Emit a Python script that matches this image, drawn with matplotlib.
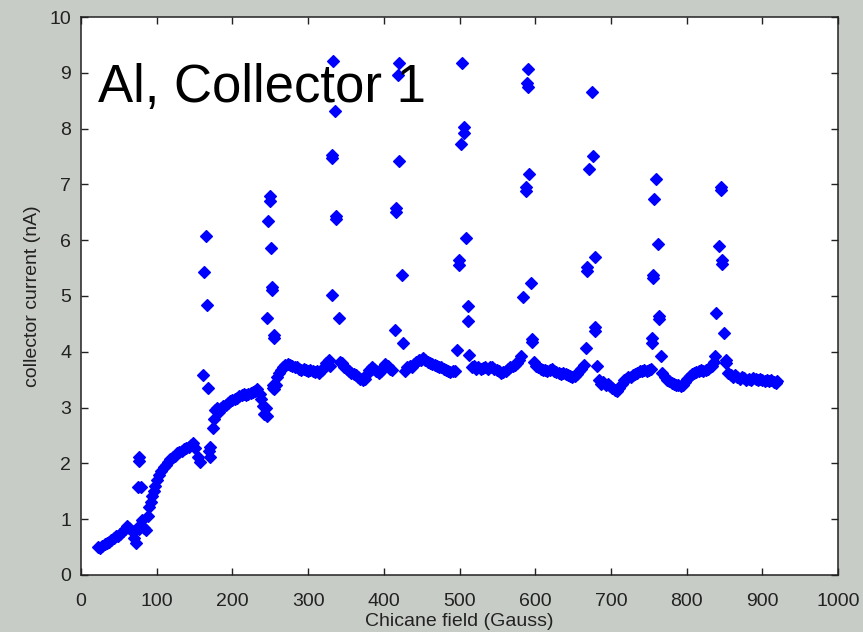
import matplotlib
matplotlib.use("Agg")
import matplotlib.pyplot as plt

# smooth part of the sweep (Gauss, nA)
field_base = [22, 25, 28, 31, 34, 37, 40, 43, 46, 49, 52, 55, 58, 61, 64, 67, 70, 72, 74, 77,
              80, 83, 86, 88, 90, 92, 94, 96, 98, 100, 103, 106, 109, 112, 115, 118, 121, 124, 127, 130,
              133, 136, 139, 142, 145, 148, 151, 154, 157,
              174, 176, 177, 179, 182, 185, 188, 191, 194, 197, 200, 203, 206, 209, 212, 215, 218, 221, 224, 227,
              230, 233, 236, 238, 240, 242, 244,
              255, 257, 259, 261, 264, 267, 270, 273, 276, 279, 282, 285, 288, 291, 294, 297, 300, 303, 306, 309,
              312, 315, 318, 321, 324, 327, 329,
              342, 345, 348, 351, 354, 357, 360, 363, 366, 369, 372, 375, 378, 381, 384, 387, 390, 393, 396, 399,
              402, 405, 408, 411,
              428, 431, 434, 437, 440, 443, 446, 449, 452, 455, 458, 461, 464, 467, 470, 473, 476, 479, 482, 485,
              488, 491, 494,
              516, 519, 522, 525, 528, 531, 534, 537, 540, 543, 546, 549, 552, 555, 558, 561, 564, 567, 570, 573,
              576, 579, 581,
              598, 601, 604, 607, 610, 613, 616, 619, 622, 625, 628, 631, 634, 637, 640, 643, 646, 649, 652, 655,
              658, 661, 664,
              684, 687, 690, 693, 696, 699, 702, 705, 708, 711, 714, 717, 720, 723, 726, 729, 732, 735, 738, 741,
              744, 747, 750, 753,
              768, 771, 774, 777, 780, 783, 786, 789, 792, 795, 798, 801, 804, 807, 810, 813, 816, 819, 822, 825,
              828, 831, 834, 836,
              855, 858, 861, 864, 867, 870, 873, 876, 879, 882, 885, 888, 891, 894, 897, 900, 903, 906, 909, 912,
              915, 918, 920]
current_base = [0.50, 0.48, 0.52, 0.55, 0.58, 0.60, 0.63, 0.66, 0.70, 0.70, 0.74, 0.78, 0.82, 0.87, 0.84, 0.78, 0.66, 0.57, 0.85, 0.82,
                0.98, 0.85, 0.80, 1.05, 1.22, 1.30, 1.42, 1.50, 1.60, 1.70, 1.80, 1.87, 1.93, 1.98, 2.03, 2.07, 2.11, 2.14, 2.18, 2.20,
                2.23, 2.25, 2.28, 2.30, 2.33, 2.37, 2.28, 2.12, 2.02,
                2.63, 2.80, 2.95, 3.00, 2.92, 3.00, 3.03, 3.05, 3.08, 3.12, 3.13, 3.15, 3.17, 3.20, 3.22, 3.24, 3.22, 3.25, 3.27, 3.28,
                3.30, 3.33, 3.25, 3.15, 3.02, 2.88, 3.00,
                3.33, 3.40, 3.55, 3.62, 3.68, 3.72, 3.76, 3.78, 3.77, 3.75, 3.72, 3.72, 3.70, 3.68, 3.70, 3.67, 3.65, 3.68, 3.66, 3.63,
                3.65, 3.62, 3.67, 3.72, 3.80, 3.85, 3.75,
                3.82, 3.80, 3.73, 3.70, 3.65, 3.62, 3.60, 3.58, 3.55, 3.52, 3.50, 3.52, 3.60, 3.68, 3.72, 3.70, 3.66, 3.62, 3.65, 3.72,
                3.78, 3.75, 3.70, 3.68,
                3.66, 3.72, 3.75, 3.73, 3.78, 3.82, 3.85, 3.86, 3.88, 3.85, 3.82, 3.80, 3.78, 3.76, 3.75, 3.73, 3.72, 3.70, 3.68, 3.66,
                3.64, 3.65, 3.66,
                3.72, 3.75, 3.70, 3.72, 3.70, 3.71, 3.73, 3.70, 3.72, 3.73, 3.70, 3.68, 3.65, 3.62, 3.63, 3.66, 3.70, 3.72, 3.74, 3.76,
                3.80, 3.86, 3.92,
                3.82, 3.75, 3.72, 3.70, 3.68, 3.67, 3.66, 3.68, 3.70, 3.66, 3.64, 3.62, 3.60, 3.62, 3.60, 3.58, 3.56, 3.55, 3.57, 3.60,
                3.65, 3.70, 3.76,
                3.50, 3.42, 3.45, 3.40, 3.42, 3.38, 3.35, 3.32, 3.30, 3.35, 3.42, 3.50, 3.52, 3.55, 3.55, 3.58, 3.60, 3.62, 3.65, 3.66,
                3.67, 3.66, 3.68, 3.70,
                3.62, 3.55, 3.50, 3.47, 3.44, 3.42, 3.40, 3.40, 3.38, 3.40, 3.45, 3.52, 3.56, 3.60, 3.62, 3.64, 3.65, 3.68, 3.66, 3.68,
                3.70, 3.72, 3.75, 3.82,
                3.62, 3.58, 3.55, 3.58, 3.55, 3.52, 3.55, 3.53, 3.50, 3.52, 3.50, 3.53, 3.52, 3.50, 3.52, 3.50, 3.48, 3.50, 3.48, 3.50,
                3.46, 3.44, 3.48]

# scattered points at the resonances
field_peaks = [75, 79, 76, 77,
               161, 163, 165, 166, 168, 170, 171, 169,
               246, 247, 250, 250, 251, 252, 252, 255, 255, 254, 253, 245,
               331, 332, 332, 333, 336, 337, 337, 341,
               415, 416, 416, 420, 419, 420, 424, 425,
               497, 499, 499, 502, 503, 506, 506, 509, 511, 511, 513,
               584, 588, 588, 590, 589, 590, 592, 594, 596, 596,
               667, 669, 669, 671, 675, 676, 679, 679, 679, 681,
               754, 754, 756, 756, 757, 760, 762, 764, 764, 766,
               838, 839, 843, 845, 845, 847, 847, 849, 852, 852]
current_peaks = [1.58, 1.58, 2.12, 2.05,
                 3.59, 5.43, 6.07, 4.84, 3.35, 2.30, 2.12, 2.22,
                 4.60, 6.34, 6.79, 6.70, 5.86, 5.16, 5.10, 4.30, 4.25, 3.35, 3.40, 2.85,
                 5.02, 7.53, 7.47, 9.21, 8.31, 6.43, 6.38, 4.60,
                 4.39, 6.58, 6.50, 9.17, 8.96, 7.42, 5.38, 4.16,
                 4.03, 5.65, 5.55, 7.72, 9.18, 8.03, 7.92, 6.04, 4.82, 4.55, 3.94,
                 4.98, 6.95, 6.88, 9.07, 8.82, 8.75, 7.19, 5.23, 4.23, 4.18,
                 4.07, 5.52, 5.45, 7.28, 8.66, 7.51, 5.70, 4.44, 4.38, 3.75,
                 4.25, 4.16, 5.38, 5.32, 6.74, 7.10, 5.93, 4.64, 4.58, 3.92,
                 3.92, 4.70, 5.90, 6.95, 6.90, 5.65, 5.58, 4.34, 3.85, 3.80]

xticks = [0, 100, 200, 300, 400, 500, 600, 700, 800, 900, 1000]
yticks = [0, 1, 2, 3, 4, 5, 6, 7, 8, 9, 10]

plt.rcParams['font.family'] = ['Liberation Sans', 'DejaVu Sans']
bg = '#c8ccc6'

fig = plt.figure(figsize=(8.63, 6.32), dpi=100, facecolor=bg)
ax = fig.add_axes([0.0939, 0.0902, 0.8772, 0.8829])
ax.set_facecolor('white')

mk = dict(linestyle='none', marker='D', markersize=5.8, color='#0000ff',
          markeredgecolor='#0000ff', markeredgewidth=0.9)
ax.plot(field_base, current_base, **mk)
ax.plot(field_peaks, current_peaks, **mk)

ax.set_xlim(0, 1000)
ax.set_ylim(0, 10)
ax.set_xticks(xticks)
ax.set_yticks(yticks)
ax.tick_params(direction='in', length=5, width=1, top=True, right=True,
               labelsize=14, colors='#222222')
ax.tick_params(axis='x', pad=13)
ax.tick_params(axis='y', pad=7)
for s in ax.spines.values():
    s.set_linewidth(1.1)
    s.set_color('#222222')

ax.set_xlabel('Chicane field (Gauss)', fontsize=14, color='#222222', labelpad=2)
ax.set_ylabel('collector current (nA)', fontsize=14, color='#222222', labelpad=6)

ax.text(0.022, 0.848, 'Al, Collector 1', transform=ax.transAxes,
        fontsize=38, va='baseline', ha='left', color='black')

fig.savefig('out.png', dpi=100, facecolor=bg)
